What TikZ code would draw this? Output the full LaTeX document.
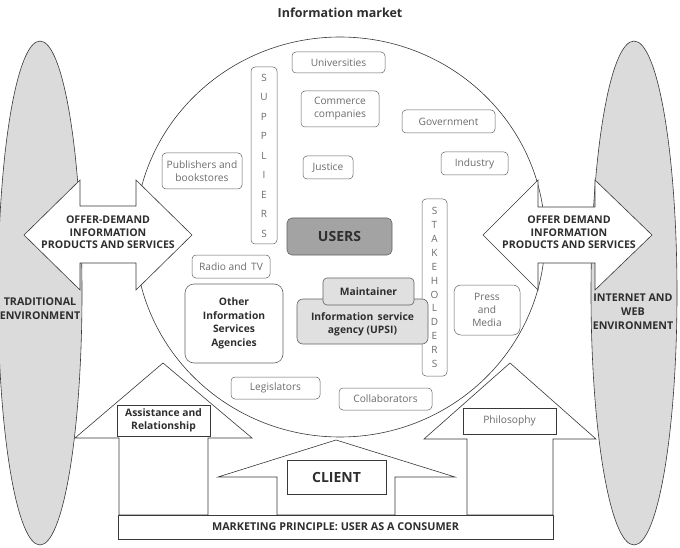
\documentclass[tikz,border=0pt]{standalone}
\usepackage{fontspec}
\setmainfont{Open Sans}
\definecolor{ovalgray}{gray}{0.86}
\definecolor{edge}{gray}{0.22}
\definecolor{boxedge}{gray}{0.38}
\definecolor{lighttext}{gray}{0.42}
\definecolor{darktext}{gray}{0.18}
\definecolor{usersfill}{gray}{0.64}
\definecolor{upsifill}{gray}{0.88}
\tikzset{
  outline/.style={draw=edge, line width=0.6pt},
  shapewhite/.style={outline, fill=white, line join=miter},
  gbox/.style={draw=boxedge, line width=0.5pt, rounded corners=4pt, text=lighttext,
    font=\fontsize{10.2}{13.5}\selectfont, align=center, inner sep=0pt},
  bbox/.style={draw=edge, line width=0.6pt, text=darktext,
    font=\bfseries\fontsize{10.3}{13.5}\selectfont, align=center, inner sep=0pt},
  vbox/.style={gbox, font=\fontsize{10}{19.5}\selectfont},
  biglabel/.style={text=darktext, font=\bfseries\fontsize{10.6}{12.5}\selectfont, align=center, inner sep=0pt},
}
\begin{document}
\begin{tikzpicture}[x=1pt,y=-1pt]
\useasboundingbox (0,0) rectangle (680,548);
% title
\node[text=darktext, font=\bfseries\fontsize{12.5}{14}\selectfont] (title) at (340,13) {Information market};
% environment ovals
\draw[outline, fill=ovalgray] (40,293) ellipse [x radius=42pt, y radius=252pt];
\draw[outline, fill=ovalgray] (634,293) ellipse [x radius=43pt, y radius=252pt];
% market circle
\draw[outline] (340,237) ellipse [x radius=205pt, y radius=200pt];
% double arrows
\draw[shapewhite] (24,235) -- (80,180) -- (80,206) -- (136,206) -- (136,180) -- (192,235)
  -- (136,290) -- (136,263) -- (80,263) -- (80,290) -- cycle;
\draw[shapewhite] (483,235) -- (538,180) -- (538,207) -- (595,207) -- (595,180) -- (652,235)
  -- (595,290) -- (595,263) -- (538,263) -- (538,290) -- cycle;
\node[biglabel] (offerL) at (108,232.5) {OFFER-DEMAND\\INFORMATION\\PRODUCTS AND SERVICES};
\node[biglabel] (offerR) at (569,232.5) {OFFER DEMAND\\INFORMATION\\PRODUCTS AND SERVICES};
\node[biglabel, font=\bfseries\fontsize{10.7}{14}\selectfont] (trad) at (40,309) {TRADITIONAL\\ENVIRONMENT};
\node[biglabel, font=\bfseries\fontsize{10.7}{14}\selectfont] (inet) at (633,312) {INTERNET AND\\WEB\\ENVIRONMENT};
% house arrows
\draw[shapewhite] (163,363) -- (252,438) -- (208,438) -- (208,515) -- (119,515) -- (119,438) -- (75,438) -- cycle;
\draw[shapewhite] (510,363) -- (596,439) -- (553,439) -- (553,515) -- (467,515) -- (467,439) -- (424,439) -- cycle;
\draw[shapewhite] (336,440) -- (455,477) -- (395,477) -- (395,515) -- (277,515) -- (277,477) -- (218,477) -- cycle;
\node[bbox, minimum width=93pt, minimum height=31pt] (assist) at (163.5,420.5) {Assistance and\\Relationship};
\node[gbox, rounded corners=0pt, draw=edge, minimum width=93pt, minimum height=26pt] (philo) at (509.5,421) {Philosophy};
\node[bbox, minimum width=99pt, minimum height=34pt, font=\bfseries\fontsize{14}{16}\selectfont] (client) at (336.5,477) {CLIENT};
\node[bbox, fill=white, minimum width=435pt, minimum height=24pt, font=\bfseries\fontsize{10.8}{13}\selectfont] (mkt) at (335.5,527) {MARKETING PRINCIPLE: USER AS A CONSUMER};
% boxes inside the market
\node[gbox, minimum width=93pt, minimum height=21pt] (univ) at (338.5,62.5) {Universities};
\node[gbox, minimum width=78pt, minimum height=36pt, font=\fontsize{10.2}{13}\selectfont] (comm) at (340,109) {Commerce\\companies};
\node[gbox, minimum width=93pt, minimum height=23pt] (gov) at (448.5,121.5) {Government};
\node[gbox, minimum width=67pt, minimum height=23pt] (ind) at (474.5,163.5) {Industry};
\node[gbox, minimum width=50pt, minimum height=23pt] (just) at (328,167.5) {Justice};
\node[gbox, minimum width=80pt, minimum height=36pt] (publ) at (202,171) {Publishers and\\bookstores};
\node[vbox, minimum width=26pt, minimum height=177pt] (supp) at (264,155.5) {S\\U\\P\\P\\L\\I\\E\\R\\S};
\node[vbox, minimum width=25pt, minimum height=177pt, font=\fontsize{10}{13.9}\selectfont] (stake) at (434.5,287.5) {S\\T\\A\\K\\E\\H\\O\\L\\D\\E\\R\\S};
\node[bbox, draw=boxedge, fill=usersfill, rounded corners=5pt, minimum width=105pt, minimum height=37pt,
  font=\bfseries\fontsize{14}{16}\selectfont] (users) at (339.5,236.5) {USERS};
\node[gbox, minimum width=78pt, minimum height=23pt] (radio) at (231,266.5) {Radio and\, TV};
\node[bbox, draw=boxedge, rounded corners=9pt, minimum width=98pt, minimum height=79pt] (other) at (234,323.5) {Other\\Information\\Services\\Agencies};
\node[bbox, draw=boxedge, fill=upsifill, rounded corners=6pt, minimum width=131pt, minimum height=45pt,
  font=\bfseries\fontsize{10.3}{13}\selectfont, text height=26pt, text depth=3pt] (upsi) at (362.5,321.5) {Information\, service\\agency (UPSI)};
\node[bbox, draw=boxedge, fill=upsifill, rounded corners=4pt, minimum width=91pt, minimum height=27pt] (maint) at (368.5,291.5) {Maintainer};
\node[gbox, rounded corners=7pt, minimum width=66pt, minimum height=50pt, font=\fontsize{10.2}{13}\selectfont] (press) at (487,310) {Press\\and\\Media};
\node[gbox, minimum width=89pt, minimum height=22pt] (legis) at (275.5,388) {Legislators};
\node[gbox, minimum width=93pt, minimum height=22pt] (collab) at (385.5,399) {Collaborators};
\end{tikzpicture}
\end{document}
